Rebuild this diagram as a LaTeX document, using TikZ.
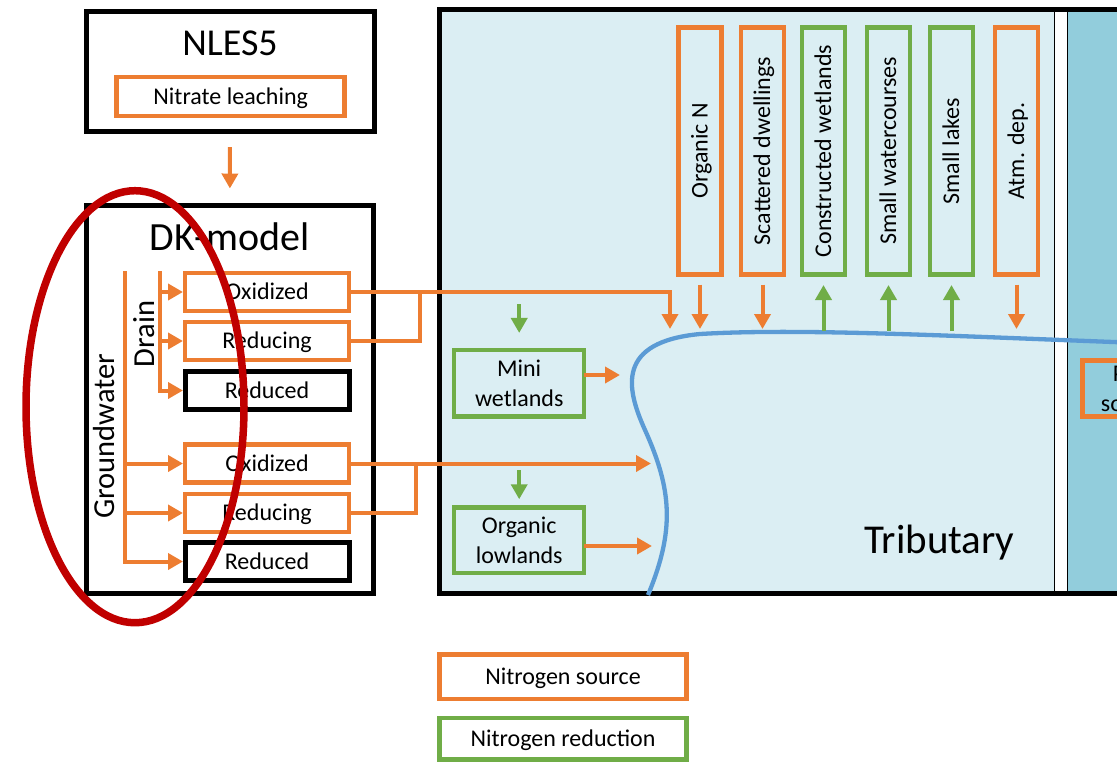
\documentclass[tikz,border=0pt]{standalone}
\usepackage{fontspec}
\setmainfont{Carlito}
\usepackage{tikz}
\usetikzlibrary{arrows.meta}
\tikzset{>={Triangle[length=15pt,width=16pt]}}

\definecolor{srcorange}{RGB}{237,125,49}
\definecolor{sinkgreen}{RGB}{112,173,71}
\definecolor{riverblue}{RGB}{91,155,213}
\definecolor{tribfill}{RGB}{219,238,243}
\definecolor{mainfill}{RGB}{146,205,220}
\definecolor{ringred}{RGB}{192,0,0}

\tikzset{
  box/.style={rectangle, inner sep=0pt, outer sep=0pt, line width=4.5pt, align=center, font=\fontsize{24}{30}\selectfont},
  src/.style={box, draw=srcorange},
  sink/.style={box, draw=sinkgreen},
  blk/.style={box, draw=black, line width=5pt},
  oneline/.style={text height=15.4pt, text depth=0pt},
  cell/.style={oneline, minimum width=164pt, minimum height=38pt},
  vbox/.style={oneline, rotate=90, minimum width=247pt, minimum height=43pt},
  oflow/.style={draw=srcorange, line width=4pt, ->},
  gflow/.style={draw=sinkgreen, line width=4pt, ->},
}

\begin{document}
\begin{tikzpicture}[x=1pt, y=-1pt]
    \useasboundingbox (0,0) rectangle (1117,761);
    \clip (0,0) rectangle (1117,761);

    % panels
    \draw[line width=1.2pt, fill=tribfill] (439,9) rectangle (1054.3,593);
    \draw[line width=1.2pt, fill=mainfill] (1067.8,9) rectangle (1140,593);
    \draw[line width=5pt] (439.2,9.2) rectangle (1140,593);
    \draw[riverblue, line width=4.3pt] (648,595) .. controls (675,530) and (672,490) .. (645,430)
      .. controls (626,388) and (616,342) .. (700,334)
      .. controls (800,328) and (950,336) .. (1140,343);

    % NLES5
    \node[blk, minimum width=288pt, minimum height=120pt] (nles) at (230,71) {};
    \node[font=\fontsize{38}{46}\selectfont, anchor=base] (nlestitle) at (230,55) {NLES5};
    \node[src, oneline, minimum width=228pt, minimum height=39pt] (leach) at (230.7,96.5) {Nitrate leaching};

    % DK-model
    \node[blk, minimum width=286.5pt, minimum height=388pt] (dk) at (229.75,399.5) {};
    \node[font=\fontsize{40}{48}\selectfont, anchor=base] (dktitle) at (229.5,250) {DK-model};
    \node[src, cell] (ox1) at (267,292) {Oxidized};
    \node[src, cell] (rdc1) at (267,341) {Reducing};
    \node[blk, cell] (rdn1) at (267,390.5) {Reduced};
    \node[src, cell] (ox2) at (267,463.5) {Oxidized};
    \node[src, cell] (rdc2) at (267,513) {Reducing};
    \node[blk, cell] (rdn2) at (267,561.5) {Reduced};
    \node[rotate=90, font=\fontsize{30.5}{36}\selectfont] (gwlabel) at (104,436) {Groundwater};
    \node[rotate=90, font=\fontsize{30.5}{36}\selectfont] (drlabel) at (144,334) {Drain};
    \coordinate (gwtop) at (125,271);
    \coordinate (drtop) at (160,271);

    % tributary
    \node[src, vbox] (orgn) at (700,151) {Organic N};
    \node[src, vbox] (scat) at (762.5,151) {Scattered dwellings};
    \node[sink, vbox] (cwet) at (823.5,151) {Constructed wetlands};
    \node[sink, vbox] (swc) at (888.5,151) {Small watercourses};
    \node[sink, vbox] (slake) at (951.5,151) {Small lakes};
    \node[src, vbox] (atm) at (1016.5,151) {Atm. dep.};
    \node[sink, minimum width=130pt, minimum height=66.7pt] (mini) at (519.2,383.3) {Mini\\wetlands};
    \node[sink, minimum width=130pt, minimum height=65.5pt] (lowl) at (519.2,540) {Organic\\lowlands};
    \node[font=\fontsize{41}{48}\selectfont, anchor=base] (tribtitle) at (939.5,553) {Tributary};
    \node[src, minimum width=111pt, minimum height=56pt] (point) at (1138,388.5) {Point\\sources};

    \coordinate (in1) at (670,329);
    \coordinate (in2) at (700,329);
    \coordinate (in3) at (762.5,329);
    \coordinate (in4) at (1016.5,329);
    \coordinate (in5) at (651,463.5);
    \coordinate (in6) at (620,375);
    \coordinate (in7) at (652,546);
    \coordinate (out1) at (823.5,331);
    \coordinate (out2) at (888.5,331);
    \coordinate (out3) at (951.5,331);
    \coordinate (gm) at (519.2,304);
    \coordinate (gl) at (519.2,470);
    \coordinate (j1) at (420,292);
    \coordinate (j2) at (416,463.5);

    % legend
    \node[src, oneline, minimum width=247pt, minimum height=44.5pt] (legsrc) at (563,676.5) {Nitrogen source};
    \node[sink, oneline, minimum width=247pt, minimum height=41.5pt] (legsink) at (563,738.5) {Nitrogen reduction};

    % flows
    \draw[oflow, shorten <=16pt, shorten >=17pt] (nles) -- (dk);
    \draw[oflow, shorten >=2pt] (drtop) |- (rdn1.west);
    \draw[oflow, shorten >=2pt] (drtop |- ox1.west) -- (ox1.west);
    \draw[oflow, shorten >=2pt] (drtop |- rdc1.west) -- (rdc1.west);
    \draw[oflow, shorten >=2pt] (gwtop) |- (rdn2.west);
    \draw[oflow, shorten >=2pt] (gwtop |- ox2.west) -- (ox2.west);
    \draw[oflow, shorten >=2pt] (gwtop |- rdc2.west) -- (rdc2.west);

    \draw[oflow] (ox1.east) -| (in1);
    \draw[draw=srcorange, line width=4pt] (rdc1.east) -| (j1);
    \draw[oflow] (ox2.east) -- (in5);
    \draw[draw=srcorange, line width=4pt] (rdc2.east) -| (j2);

    \draw[oflow, shorten <=10pt] (orgn) -- (in2);
    \draw[oflow, shorten <=10pt] (scat) -- (in3);
    \draw[oflow, shorten <=10pt] (atm) -- (in4);
    \draw[gflow, shorten >=10.5pt] (out1) -- (cwet);
    \draw[gflow, shorten >=10.5pt] (out2) -- (swc);
    \draw[gflow, shorten >=10.5pt] (out3) -- (slake);

    \draw[gflow, shorten >=17pt] (gm) -- (mini);
    \draw[gflow, shorten >=8pt] (gl) -- (lowl);
    \draw[oflow] (mini.east |- in6) -- (in6);
    \draw[oflow] (lowl.east |- in7) -- (in7);

    \draw[ringred, line width=7.5pt] (135,406.7) ellipse [x radius=109, y radius=216];
\end{tikzpicture}
\end{document}
